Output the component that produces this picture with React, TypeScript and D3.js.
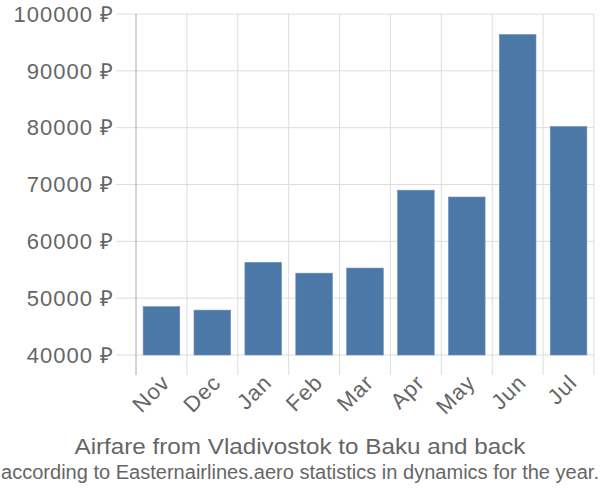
import React from "react";
import * as d3 from "d3";

const months = ["Nov", "Dec", "Jan", "Feb", "Mar", "Apr", "May", "Jun", "Jul"];
const prices = [48500, 47900, 56300, 54400, 55300, 69000, 67800, 96400, 80200];
const yTicks = [40000, 50000, 60000, 70000, 80000, 90000, 100000];
const title = "Airfare from Vladivostok to Baku and back";
const subtitle = "according to Easternairlines.aero statistics in dynamics for the year.";

export default function App() {
  const W = 600, H = 500;
  const left = 136, right = 594, top = 14, bottom = 355;
  const x = d3.scaleBand<string>().domain(months).range([left, right]).paddingInner(0.28).paddingOuter(0.14);
  const xs = d3.scaleBand<string>().domain(months).range([left, right]);
  const y = d3.scaleLinear().domain([40000, 100000]).range([bottom, top]);
  const font = "'Liberation Sans', Arial, sans-serif";
  const textColor = "#666";
  return (
    <svg width={W} height={H} style={{ position: "absolute", left: 0, top: 0 }} fontFamily={font}>
      <rect width={W} height={H} fill="#fff" />
      {months.map((m, i) => (
        <line key={"vg" + i} x1={xs(m)! + xs.step()} x2={xs(m)! + xs.step()} y1={top} y2={375} stroke="#ddd" strokeWidth={1} />
      ))}
      {yTicks.map((t) => (
        <line key={"hg" + t} x1={116} x2={right} y1={y(t)} y2={y(t)} stroke="#ddd" strokeWidth={1} />
      ))}
      <line x1={left} x2={left} y1={top} y2={375} stroke="#aaa" strokeWidth={1} />
      {prices.map((p, i) => (
        <rect key={"b" + i} x={x(months[i])!} width={x.bandwidth()} y={y(p)} height={y(40000) - y(p)}
          fill="#4c78a8" stroke="#6a8fbb" strokeWidth={0.6} />
      ))}
      {yTicks.map((t) => (
        <text key={"yl" + t} x={114} y={y(t)} dy="0.35em" textAnchor="end" fontSize={22} letterSpacing={1} fill={textColor}>
          {t} ₽
        </text>
      ))}
      {months.map((m) => (
        <text key={"xl" + m} transform={`translate(${xs(m)! + xs.step() / 2 - 1},${373}) rotate(-45)`}
          textAnchor="end" dy="0.7em" fontSize={22} letterSpacing={1} fill={textColor}>
          {m}
        </text>
      ))}
      <text x={300} y={454} textAnchor="middle" fontSize={22} fill={textColor} textLength={451} lengthAdjust="spacingAndGlyphs">{title}</text>
      <text x={300} y={479} textAnchor="middle" fontSize={20} fill={textColor} textLength={598} lengthAdjust="spacingAndGlyphs">{subtitle}</text>
    </svg>
  );
}
